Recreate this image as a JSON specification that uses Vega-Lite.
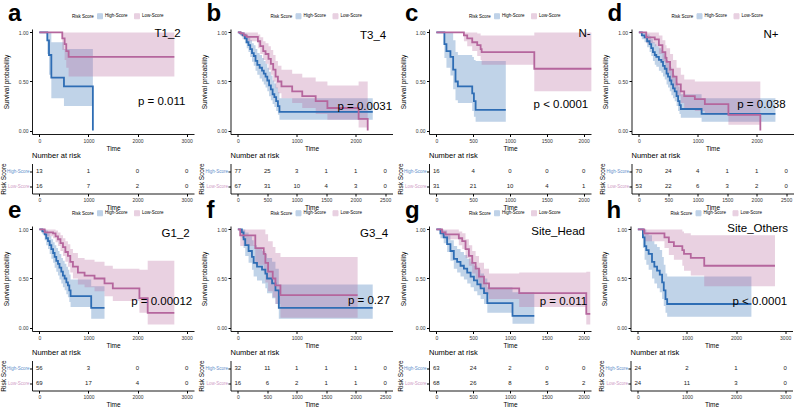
{
"$schema": "https://vega.github.io/schema/vega-lite/v6.json",
"padding": {"left": 0, "top": 2, "right": 0, "bottom": 0},
"background": "white",
"config": {
 "font": "Liberation Sans",
 "view": {"stroke": null},
 "axis": {"grid": false, "domainColor": "#000", "domainWidth": 0.9, "tickColor": "#000", "tickSize": 2.5, "labelFontSize": 5, "labelColor": "#333", "titleFontSize": 6.5, "titleFontWeight": "normal", "titleColor": "#000", "labelPadding": 1.5, "titlePadding": 2},
 "legend": {"labelFontSize": 4.5, "titleFontSize": 4.5, "titleFontWeight": "normal", "labelColor": "#000", "symbolSize": 25, "symbolType": "square", "columnPadding": 4, "labelOffset": 2, "titlePadding": 3, "symbolStrokeWidth": 1},
 "title": {"fontSize": 24, "fontWeight": "bold", "anchor": "start", "frame": "group", "dx": -24, "offset": -13}
},
"datasets": {
 "a_km": [
  {"g":"High-Score","t":0,"s":1,"lo":1,"hi":1},{"g":"High-Score","t":162,"s":0.92,"lo":0.78,"hi":1},{"g":"High-Score","t":196,"s":0.77,"lo":0.57,"hi":1},{"g":"High-Score","t":244,"s":0.54,"lo":0.33,"hi":0.9},{"g":"High-Score","t":501,"s":0.45,"lo":0.25,"hi":0.83},{"g":"High-Score","t":1090,"s":0,"lo":0,"hi":0},
  {"g":"Low-Score","t":0,"s":1,"lo":1,"hi":1},{"g":"Low-Score","t":467,"s":0.94,"lo":0.82,"hi":1},{"g":"Low-Score","t":515,"s":0.88,"lo":0.72,"hi":1},{"g":"Low-Score","t":548,"s":0.81,"lo":0.64,"hi":1},{"g":"Low-Score","t":596,"s":0.75,"lo":0.55,"hi":1},{"g":"Low-Score","t":2750,"s":0.75,"lo":0.55,"hi":1}
 ],
 "a_risk": [
  {"g":"High-Score","t":0,"n":13},{"g":"High-Score","t":1000,"n":1},{"g":"High-Score","t":2000,"n":0},{"g":"High-Score","t":3000,"n":0},
  {"g":"Low-Score","t":0,"n":16},{"g":"Low-Score","t":1000,"n":7},{"g":"Low-Score","t":2000,"n":2},{"g":"Low-Score","t":3000,"n":0}
 ],
 "b_km": [
  {"g":"High-Score","t":0,"s":1,"lo":1,"hi":1},{"g":"High-Score","t":40,"s":0.99,"lo":0.97,"hi":1},{"g":"High-Score","t":80,"s":0.97,"lo":0.93,"hi":1},{"g":"High-Score","t":120,"s":0.94,"lo":0.89,"hi":0.99},{"g":"High-Score","t":150,"s":0.9,"lo":0.84,"hi":0.97},{"g":"High-Score","t":180,"s":0.87,"lo":0.8,"hi":0.95},{"g":"High-Score","t":210,"s":0.83,"lo":0.75,"hi":0.92},{"g":"High-Score","t":240,"s":0.79,"lo":0.7,"hi":0.89},{"g":"High-Score","t":270,"s":0.76,"lo":0.66,"hi":0.87},{"g":"High-Score","t":300,"s":0.71,"lo":0.61,"hi":0.83},{"g":"High-Score","t":330,"s":0.67,"lo":0.57,"hi":0.79},{"g":"High-Score","t":370,"s":0.64,"lo":0.53,"hi":0.77},{"g":"High-Score","t":410,"s":0.61,"lo":0.5,"hi":0.74},{"g":"High-Score","t":440,"s":0.58,"lo":0.47,"hi":0.71},{"g":"High-Score","t":470,"s":0.55,"lo":0.44,"hi":0.68},{"g":"High-Score","t":500,"s":0.51,"lo":0.4,"hi":0.64},{"g":"High-Score","t":530,"s":0.46,"lo":0.35,"hi":0.6},{"g":"High-Score","t":560,"s":0.42,"lo":0.31,"hi":0.56},{"g":"High-Score","t":590,"s":0.37,"lo":0.27,"hi":0.51},{"g":"High-Score","t":620,"s":0.34,"lo":0.24,"hi":0.48},{"g":"High-Score","t":650,"s":0.3,"lo":0.2,"hi":0.44},{"g":"High-Score","t":680,"s":0.25,"lo":0.16,"hi":0.39},{"g":"High-Score","t":706,"s":0.19,"lo":0.11,"hi":0.33},{"g":"High-Score","t":2290,"s":0.19,"lo":0.11,"hi":0.33},
  {"g":"Low-Score","t":0,"s":1,"lo":1,"hi":1},{"g":"Low-Score","t":50,"s":0.99,"lo":0.97,"hi":1},{"g":"Low-Score","t":100,"s":0.97,"lo":0.93,"hi":1},{"g":"Low-Score","t":150,"s":0.955,"lo":0.91,"hi":1},{"g":"Low-Score","t":340,"s":0.91,"lo":0.84,"hi":0.98},{"g":"Low-Score","t":380,"s":0.86,"lo":0.78,"hi":0.95},{"g":"Low-Score","t":430,"s":0.81,"lo":0.72,"hi":0.91},{"g":"Low-Score","t":470,"s":0.78,"lo":0.68,"hi":0.89},{"g":"Low-Score","t":520,"s":0.73,"lo":0.62,"hi":0.86},{"g":"Low-Score","t":560,"s":0.68,"lo":0.57,"hi":0.82},{"g":"Low-Score","t":600,"s":0.62,"lo":0.5,"hi":0.77},{"g":"Low-Score","t":640,"s":0.55,"lo":0.43,"hi":0.71},{"g":"Low-Score","t":680,"s":0.5,"lo":0.38,"hi":0.66},{"g":"Low-Score","t":740,"s":0.45,"lo":0.33,"hi":0.62},{"g":"Low-Score","t":922,"s":0.4,"lo":0.28,"hi":0.58},{"g":"Low-Score","t":1093,"s":0.35,"lo":0.23,"hi":0.54},{"g":"Low-Score","t":1321,"s":0.3,"lo":0.17,"hi":0.5},{"g":"Low-Score","t":1520,"s":0.23,"lo":0.11,"hi":0.46},{"g":"Low-Score","t":2050,"s":0.12,"lo":0.03,"hi":0.5},{"g":"Low-Score","t":2204,"s":0,"lo":0,"hi":0}
 ],
 "b_risk": [
  {"g":"High-Score","t":0,"n":77},{"g":"High-Score","t":500,"n":25},{"g":"High-Score","t":1000,"n":3},{"g":"High-Score","t":1500,"n":1},{"g":"High-Score","t":2000,"n":1},{"g":"High-Score","t":2500,"n":0},
  {"g":"Low-Score","t":0,"n":67},{"g":"Low-Score","t":500,"n":31},{"g":"Low-Score","t":1000,"n":10},{"g":"Low-Score","t":1500,"n":4},{"g":"Low-Score","t":2000,"n":3},{"g":"Low-Score","t":2500,"n":0}
 ],
 "c_km": [
  {"g":"High-Score","t":0,"s":1,"lo":1,"hi":1},{"g":"High-Score","t":109,"s":0.88,"lo":0.74,"hi":1},{"g":"High-Score","t":137,"s":0.81,"lo":0.64,"hi":1},{"g":"High-Score","t":191,"s":0.75,"lo":0.56,"hi":1},{"g":"High-Score","t":228,"s":0.62,"lo":0.42,"hi":0.92},{"g":"High-Score","t":260,"s":0.5,"lo":0.31,"hi":0.8},{"g":"High-Score","t":292,"s":0.45,"lo":0.28,"hi":0.77},{"g":"High-Score","t":487,"s":0.38,"lo":0.2,"hi":0.75},{"g":"High-Score","t":510,"s":0.3,"lo":0.14,"hi":0.72},{"g":"High-Score","t":533,"s":0.21,"lo":0.09,"hi":0.71},{"g":"High-Score","t":943,"s":0.21,"lo":0.09,"hi":0.71},
  {"g":"Low-Score","t":0,"s":1,"lo":1,"hi":1},{"g":"Low-Score","t":374,"s":0.97,"lo":0.91,"hi":1},{"g":"Low-Score","t":419,"s":0.94,"lo":0.86,"hi":1},{"g":"Low-Score","t":487,"s":0.9,"lo":0.81,"hi":1},{"g":"Low-Score","t":555,"s":0.87,"lo":0.76,"hi":0.99},{"g":"Low-Score","t":601,"s":0.83,"lo":0.72,"hi":0.97},{"g":"Low-Score","t":615,"s":0.8,"lo":0.67,"hi":0.97},{"g":"Low-Score","t":1330,"s":0.63,"lo":0.4,"hi":1},{"g":"Low-Score","t":2105,"s":0.63,"lo":0.4,"hi":1}
 ],
 "c_risk": [
  {"g":"High-Score","t":0,"n":16},{"g":"High-Score","t":500,"n":4},{"g":"High-Score","t":1000,"n":0},{"g":"High-Score","t":1500,"n":0},{"g":"High-Score","t":2000,"n":0},
  {"g":"Low-Score","t":0,"n":31},{"g":"Low-Score","t":500,"n":21},{"g":"Low-Score","t":1000,"n":10},{"g":"Low-Score","t":1500,"n":4},{"g":"Low-Score","t":2000,"n":1}
 ],
 "d_km": [
  {"g":"High-Score","t":0,"s":1,"lo":1,"hi":1},{"g":"High-Score","t":50,"s":0.97,"lo":0.93,"hi":1},{"g":"High-Score","t":97,"s":0.95,"lo":0.9,"hi":1},{"g":"High-Score","t":140,"s":0.91,"lo":0.85,"hi":0.98},{"g":"High-Score","t":182,"s":0.88,"lo":0.8,"hi":0.96},{"g":"High-Score","t":210,"s":0.84,"lo":0.76,"hi":0.93},{"g":"High-Score","t":239,"s":0.8,"lo":0.71,"hi":0.9},{"g":"High-Score","t":270,"s":0.77,"lo":0.67,"hi":0.88},{"g":"High-Score","t":296,"s":0.75,"lo":0.65,"hi":0.86},{"g":"High-Score","t":340,"s":0.72,"lo":0.61,"hi":0.84},{"g":"High-Score","t":382,"s":0.7,"lo":0.59,"hi":0.82},{"g":"High-Score","t":410,"s":0.66,"lo":0.55,"hi":0.79},{"g":"High-Score","t":439,"s":0.63,"lo":0.52,"hi":0.76},{"g":"High-Score","t":470,"s":0.58,"lo":0.47,"hi":0.72},{"g":"High-Score","t":495,"s":0.55,"lo":0.44,"hi":0.69},{"g":"High-Score","t":525,"s":0.51,"lo":0.4,"hi":0.65},{"g":"High-Score","t":552,"s":0.47,"lo":0.36,"hi":0.61},{"g":"High-Score","t":580,"s":0.43,"lo":0.33,"hi":0.57},{"g":"High-Score","t":609,"s":0.4,"lo":0.3,"hi":0.54},{"g":"High-Score","t":640,"s":0.35,"lo":0.25,"hi":0.49},{"g":"High-Score","t":666,"s":0.3,"lo":0.2,"hi":0.45},{"g":"High-Score","t":690,"s":0.26,"lo":0.17,"hi":0.41},{"g":"High-Score","t":712,"s":0.22,"lo":0.13,"hi":0.37},{"g":"High-Score","t":1065,"s":0.17,"lo":0.09,"hi":0.33},{"g":"High-Score","t":2318,"s":0.17,"lo":0.09,"hi":0.33},
  {"g":"Low-Score","t":0,"s":1,"lo":1,"hi":1},{"g":"Low-Score","t":125,"s":0.95,"lo":0.89,"hi":1},{"g":"Low-Score","t":270,"s":0.93,"lo":0.86,"hi":1},{"g":"Low-Score","t":340,"s":0.87,"lo":0.78,"hi":0.97},{"g":"Low-Score","t":400,"s":0.8,"lo":0.7,"hi":0.92},{"g":"Low-Score","t":450,"s":0.74,"lo":0.63,"hi":0.87},{"g":"Low-Score","t":470,"s":0.7,"lo":0.58,"hi":0.84},{"g":"Low-Score","t":530,"s":0.62,"lo":0.5,"hi":0.78},{"g":"Low-Score","t":580,"s":0.55,"lo":0.42,"hi":0.72},{"g":"Low-Score","t":640,"s":0.47,"lo":0.35,"hi":0.64},{"g":"Low-Score","t":712,"s":0.4,"lo":0.28,"hi":0.57},{"g":"Low-Score","t":770,"s":0.35,"lo":0.23,"hi":0.52},{"g":"Low-Score","t":950,"s":0.32,"lo":0.2,"hi":0.5},{"g":"Low-Score","t":1120,"s":0.27,"lo":0.16,"hi":0.5},{"g":"Low-Score","t":1520,"s":0.16,"lo":0.06,"hi":0.5},{"g":"Low-Score","t":2062,"s":0,"lo":0,"hi":0}
 ],
 "d_risk": [
  {"g":"High-Score","t":0,"n":70},{"g":"High-Score","t":500,"n":24},{"g":"High-Score","t":1000,"n":4},{"g":"High-Score","t":1500,"n":1},{"g":"High-Score","t":2000,"n":1},{"g":"High-Score","t":2500,"n":0},
  {"g":"Low-Score","t":0,"n":53},{"g":"Low-Score","t":500,"n":22},{"g":"Low-Score","t":1000,"n":6},{"g":"Low-Score","t":1500,"n":3},{"g":"Low-Score","t":2000,"n":2},{"g":"Low-Score","t":2500,"n":0}
 ],
 "e_km": [
  {"g":"High-Score","t":0,"s":1,"lo":1,"hi":1},{"g":"High-Score","t":60,"s":0.98,"lo":0.95,"hi":1},{"g":"High-Score","t":108,"s":0.95,"lo":0.89,"hi":1},{"g":"High-Score","t":140,"s":0.91,"lo":0.84,"hi":0.99},{"g":"High-Score","t":176,"s":0.88,"lo":0.8,"hi":0.96},{"g":"High-Score","t":210,"s":0.84,"lo":0.75,"hi":0.93},{"g":"High-Score","t":244,"s":0.8,"lo":0.7,"hi":0.9},{"g":"High-Score","t":280,"s":0.76,"lo":0.66,"hi":0.87},{"g":"High-Score","t":311,"s":0.72,"lo":0.61,"hi":0.84},{"g":"High-Score","t":345,"s":0.68,"lo":0.57,"hi":0.81},{"g":"High-Score","t":379,"s":0.65,"lo":0.53,"hi":0.78},{"g":"High-Score","t":410,"s":0.61,"lo":0.49,"hi":0.75},{"g":"High-Score","t":447,"s":0.57,"lo":0.45,"hi":0.71},{"g":"High-Score","t":480,"s":0.53,"lo":0.41,"hi":0.68},{"g":"High-Score","t":515,"s":0.5,"lo":0.38,"hi":0.65},{"g":"High-Score","t":550,"s":0.46,"lo":0.34,"hi":0.62},{"g":"High-Score","t":582,"s":0.43,"lo":0.31,"hi":0.59},{"g":"High-Score","t":610,"s":0.38,"lo":0.26,"hi":0.54},{"g":"High-Score","t":636,"s":0.32,"lo":0.21,"hi":0.49},{"g":"High-Score","t":1056,"s":0.2,"lo":0.09,"hi":0.42},{"g":"High-Score","t":1327,"s":0.2,"lo":0.09,"hi":0.42},
  {"g":"Low-Score","t":0,"s":1,"lo":1,"hi":1},{"g":"Low-Score","t":108,"s":0.97,"lo":0.93,"hi":1},{"g":"Low-Score","t":278,"s":0.96,"lo":0.91,"hi":1},{"g":"Low-Score","t":330,"s":0.93,"lo":0.87,"hi":0.99},{"g":"Low-Score","t":379,"s":0.9,"lo":0.83,"hi":0.97},{"g":"Low-Score","t":430,"s":0.86,"lo":0.78,"hi":0.94},{"g":"Low-Score","t":481,"s":0.82,"lo":0.73,"hi":0.91},{"g":"Low-Score","t":530,"s":0.77,"lo":0.67,"hi":0.88},{"g":"Low-Score","t":582,"s":0.73,"lo":0.62,"hi":0.85},{"g":"Low-Score","t":630,"s":0.67,"lo":0.56,"hi":0.8},{"g":"Low-Score","t":684,"s":0.62,"lo":0.5,"hi":0.76},{"g":"Low-Score","t":785,"s":0.56,"lo":0.44,"hi":0.71},{"g":"Low-Score","t":921,"s":0.53,"lo":0.41,"hi":0.69},{"g":"Low-Score","t":1124,"s":0.5,"lo":0.37,"hi":0.67},{"g":"Low-Score","t":1327,"s":0.45,"lo":0.32,"hi":0.63},{"g":"Low-Score","t":1496,"s":0.4,"lo":0.27,"hi":0.6},{"g":"Low-Score","t":2038,"s":0.3,"lo":0.15,"hi":0.59},{"g":"Low-Score","t":2207,"s":0.15,"lo":0.03,"hi":0.68},{"g":"Low-Score","t":2749,"s":0.15,"lo":0.03,"hi":0.68}
 ],
 "e_risk": [
  {"g":"High-Score","t":0,"n":56},{"g":"High-Score","t":1000,"n":3},{"g":"High-Score","t":2000,"n":0},{"g":"High-Score","t":3000,"n":0},
  {"g":"Low-Score","t":0,"n":69},{"g":"Low-Score","t":1000,"n":17},{"g":"Low-Score","t":2000,"n":4},{"g":"Low-Score","t":3000,"n":0}
 ],
 "f_km": [
  {"g":"High-Score","t":0,"s":1,"lo":1,"hi":1},{"g":"High-Score","t":68,"s":0.97,"lo":0.91,"hi":1},{"g":"High-Score","t":97,"s":0.9,"lo":0.81,"hi":1},{"g":"High-Score","t":125,"s":0.84,"lo":0.73,"hi":0.97},{"g":"High-Score","t":182,"s":0.78,"lo":0.66,"hi":0.93},{"g":"High-Score","t":239,"s":0.72,"lo":0.59,"hi":0.89},{"g":"High-Score","t":268,"s":0.66,"lo":0.52,"hi":0.84},{"g":"High-Score","t":325,"s":0.62,"lo":0.48,"hi":0.81},{"g":"High-Score","t":410,"s":0.59,"lo":0.45,"hi":0.78},{"g":"High-Score","t":467,"s":0.55,"lo":0.4,"hi":0.75},{"g":"High-Score","t":495,"s":0.5,"lo":0.35,"hi":0.71},{"g":"High-Score","t":581,"s":0.45,"lo":0.3,"hi":0.67},{"g":"High-Score","t":638,"s":0.38,"lo":0.24,"hi":0.6},{"g":"High-Score","t":695,"s":0.2,"lo":0.09,"hi":0.44},{"g":"High-Score","t":2289,"s":0.2,"lo":0.09,"hi":0.44},
  {"g":"Low-Score","t":0,"s":1,"lo":1,"hi":1},{"g":"Low-Score","t":40,"s":0.94,"lo":0.83,"hi":1},{"g":"Low-Score","t":296,"s":0.81,"lo":0.64,"hi":1},{"g":"Low-Score","t":439,"s":0.75,"lo":0.56,"hi":1},{"g":"Low-Score","t":467,"s":0.66,"lo":0.46,"hi":0.95},{"g":"Low-Score","t":513,"s":0.57,"lo":0.37,"hi":0.88},{"g":"Low-Score","t":592,"s":0.5,"lo":0.31,"hi":0.82},{"g":"Low-Score","t":638,"s":0.43,"lo":0.24,"hi":0.76},{"g":"Low-Score","t":723,"s":0.33,"lo":0.1,"hi":0.72},{"g":"Low-Score","t":2033,"s":0.33,"lo":0.1,"hi":0.72}
 ],
 "f_risk": [
  {"g":"High-Score","t":0,"n":32},{"g":"High-Score","t":500,"n":11},{"g":"High-Score","t":1000,"n":1},{"g":"High-Score","t":1500,"n":1},{"g":"High-Score","t":2000,"n":1},{"g":"High-Score","t":2500,"n":0},
  {"g":"Low-Score","t":0,"n":16},{"g":"Low-Score","t":500,"n":6},{"g":"Low-Score","t":1000,"n":2},{"g":"Low-Score","t":1500,"n":1},{"g":"Low-Score","t":2000,"n":1},{"g":"Low-Score","t":2500,"n":0}
 ],
 "g_km": [
  {"g":"High-Score","t":0,"s":1,"lo":1,"hi":1},{"g":"High-Score","t":55,"s":0.96,"lo":0.91,"hi":1},{"g":"High-Score","t":100,"s":0.92,"lo":0.86,"hi":0.99},{"g":"High-Score","t":146,"s":0.85,"lo":0.77,"hi":0.94},{"g":"High-Score","t":191,"s":0.78,"lo":0.68,"hi":0.89},{"g":"High-Score","t":237,"s":0.7,"lo":0.6,"hi":0.83},{"g":"High-Score","t":282,"s":0.67,"lo":0.56,"hi":0.8},{"g":"High-Score","t":328,"s":0.63,"lo":0.52,"hi":0.77},{"g":"High-Score","t":374,"s":0.6,"lo":0.49,"hi":0.74},{"g":"High-Score","t":419,"s":0.56,"lo":0.45,"hi":0.7},{"g":"High-Score","t":465,"s":0.52,"lo":0.41,"hi":0.67},{"g":"High-Score","t":510,"s":0.48,"lo":0.37,"hi":0.63},{"g":"High-Score","t":556,"s":0.44,"lo":0.33,"hi":0.59},{"g":"High-Score","t":601,"s":0.4,"lo":0.29,"hi":0.55},{"g":"High-Score","t":647,"s":0.35,"lo":0.24,"hi":0.5},{"g":"High-Score","t":692,"s":0.25,"lo":0.15,"hi":0.41},{"g":"High-Score","t":1034,"s":0.12,"lo":0.04,"hi":0.36},{"g":"High-Score","t":1330,"s":0.12,"lo":0.04,"hi":0.36},
  {"g":"Low-Score","t":0,"s":1,"lo":1,"hi":1},{"g":"Low-Score","t":77,"s":0.97,"lo":0.93,"hi":1},{"g":"Low-Score","t":123,"s":0.95,"lo":0.9,"hi":1},{"g":"Low-Score","t":305,"s":0.91,"lo":0.84,"hi":0.98},{"g":"Low-Score","t":351,"s":0.88,"lo":0.8,"hi":0.96},{"g":"Low-Score","t":396,"s":0.8,"lo":0.71,"hi":0.9},{"g":"Low-Score","t":442,"s":0.73,"lo":0.63,"hi":0.84},{"g":"Low-Score","t":487,"s":0.66,"lo":0.55,"hi":0.78},{"g":"Low-Score","t":533,"s":0.6,"lo":0.49,"hi":0.73},{"g":"Low-Score","t":579,"s":0.52,"lo":0.41,"hi":0.66},{"g":"Low-Score","t":647,"s":0.45,"lo":0.34,"hi":0.6},{"g":"Low-Score","t":715,"s":0.4,"lo":0.29,"hi":0.55},{"g":"Low-Score","t":1125,"s":0.35,"lo":0.21,"hi":0.56},{"g":"Low-Score","t":2036,"s":0.14,"lo":0.03,"hi":0.57},{"g":"Low-Score","t":2090,"s":0.14,"lo":0.03,"hi":0.57}
 ],
 "g_risk": [
  {"g":"High-Score","t":0,"n":63},{"g":"High-Score","t":500,"n":24},{"g":"High-Score","t":1000,"n":2},{"g":"High-Score","t":1500,"n":0},{"g":"High-Score","t":2000,"n":0},
  {"g":"Low-Score","t":0,"n":68},{"g":"Low-Score","t":500,"n":26},{"g":"Low-Score","t":1000,"n":8},{"g":"Low-Score","t":1500,"n":5},{"g":"Low-Score","t":2000,"n":2}
 ],
 "h_km": [
  {"g":"High-Score","t":0,"s":1,"lo":1,"hi":1},{"g":"High-Score","t":103,"s":0.92,"lo":0.81,"hi":1},{"g":"High-Score","t":137,"s":0.83,"lo":0.69,"hi":1},{"g":"High-Score","t":172,"s":0.79,"lo":0.64,"hi":0.97},{"g":"High-Score","t":220,"s":0.75,"lo":0.59,"hi":0.94},{"g":"High-Score","t":288,"s":0.67,"lo":0.5,"hi":0.88},{"g":"High-Score","t":336,"s":0.62,"lo":0.45,"hi":0.85},{"g":"High-Score","t":391,"s":0.58,"lo":0.4,"hi":0.82},{"g":"High-Score","t":446,"s":0.54,"lo":0.36,"hi":0.79},{"g":"High-Score","t":494,"s":0.46,"lo":0.29,"hi":0.72},{"g":"High-Score","t":528,"s":0.38,"lo":0.22,"hi":0.64},{"g":"High-Score","t":563,"s":0.29,"lo":0.15,"hi":0.55},{"g":"High-Score","t":597,"s":0.24,"lo":0.11,"hi":0.52},{"g":"High-Score","t":2313,"s":0.24,"lo":0.11,"hi":0.52},
  {"g":"Low-Score","t":0,"s":1,"lo":1,"hi":1},{"g":"Low-Score","t":130,"s":0.96,"lo":0.88,"hi":1},{"g":"Low-Score","t":542,"s":0.92,"lo":0.81,"hi":1},{"g":"Low-Score","t":631,"s":0.87,"lo":0.74,"hi":1},{"g":"Low-Score","t":734,"s":0.83,"lo":0.69,"hi":1},{"g":"Low-Score","t":906,"s":0.79,"lo":0.63,"hi":0.98},{"g":"Low-Score","t":940,"s":0.75,"lo":0.58,"hi":0.96},{"g":"Low-Score","t":1078,"s":0.71,"lo":0.53,"hi":0.94},{"g":"Low-Score","t":1352,"s":0.63,"lo":0.42,"hi":0.94},{"g":"Low-Score","t":2793,"s":0.63,"lo":0.42,"hi":0.94}
 ],
 "h_risk": [
  {"g":"High-Score","t":0,"n":24},{"g":"High-Score","t":1000,"n":2},{"g":"High-Score","t":2000,"n":1},{"g":"High-Score","t":3000,"n":0},
  {"g":"Low-Score","t":0,"n":24},{"g":"Low-Score","t":1000,"n":11},{"g":"Low-Score","t":2000,"n":3},{"g":"Low-Score","t":3000,"n":0}
 ]
},
"spacing": -12,
"resolve": {"scale": {"color": "independent"}, "legend": {"color": "independent"}},
"vconcat": [
{"hconcat": [
 {"vconcat": [
  {"width": 162, "height": 105, "title": {"text": "a"},
   "data": {"name": "a_km"},
   "layer": [
    {"mark": {"type": "area", "interpolate": "step-after", "opacity": 0.3}, "encoding": {"x": {"field": "t", "type": "quantitative", "scale": {"domain": [-150, 3150], "nice": false, "zero": false}, "axis": {"values": [0,1000,2000,3000], "title": "Time", "format": "d"}}, "y": {"field": "lo", "type": "quantitative", "scale": {"domain": [-0.035, 1.035], "nice": false}, "axis": {"values": [0,0.25,0.5,0.75,1], "format": ".2f", "title": "Survival probability", "titlePadding": 9}}, "y2": {"field": "hi"}, "color": {"field": "g", "type": "nominal", "scale": {"domain": ["High-Score","Low-Score"], "range": ["#2E6DB4","#B5669D"]}, "legend": {"title": "Risk Score", "orient": "none", "legendX": 40, "legendY": -16, "direction": "horizontal", "titleOrient": "left"}}}},
    {"mark": {"type": "line", "interpolate": "step-after", "strokeWidth": 1.8}, "encoding": {"x": {"field": "t", "type": "quantitative", "title": "Time"}, "y": {"field": "s", "type": "quantitative", "title": "Survival probability"}, "color": {"field": "g", "type": "nominal"}}},
    {"data": {"values": [{}]}, "mark": {"type": "text", "text": "T1_2", "fontSize": 11.5, "align": "right", "baseline": "middle"}, "encoding": {"x": {"datum": 2880}, "y": {"datum": 0.98}}},
    {"data": {"values": [{}]}, "mark": {"type": "text", "text": "p = 0.011", "fontSize": 11.5, "align": "left", "baseline": "middle"}, "encoding": {"x": {"datum": 2008}, "y": {"datum": 0.29}}}
   ]},
  {"width": 162, "height": 30, "title": {"text": "Number at risk", "fontSize": 7.5, "fontWeight": "normal", "offset": 3, "dx": 0},
   "data": {"name": "a_risk"}, "mark": {"type": "text", "fontSize": 6, "color": "#222"},
   "encoding": {"x": {"field": "t", "type": "quantitative", "scale": {"domain": [-150, 3150], "nice": false, "zero": false}, "axis": {"values": [0,1000,2000,3000], "title": "Time", "format": "d"}}, "y": {"field": "g", "type": "nominal", "scale": {"domain": ["High-Score","Low-Score"]}, "axis": {"title": "Risk Score", "labelFontSize": 4.5, "labelPadding": 0.5, "titlePadding": 0, "labelColor": {"condition": {"test": "datum.value === 'High-Score'", "value": "#5F8FCB"}, "value": "#CF9CC6"}}}, "text": {"field": "n"}}}
 ], "spacing": 29.5, "bounds": "flush", "resolve": {"scale": {"color": "independent"}, "legend": {"color": "independent"}}},
 {"vconcat": [
  {"width": 162, "height": 105, "title": {"text": "b"},
   "data": {"name": "b_km"},
   "layer": [
    {"mark": {"type": "area", "interpolate": "step-after", "opacity": 0.3}, "encoding": {"x": {"field": "t", "type": "quantitative", "scale": {"domain": [-125, 2625], "nice": false, "zero": false}, "axis": {"values": [0,500,1000,1500,2000,2500], "title": "Time", "format": "d"}}, "y": {"field": "lo", "type": "quantitative", "scale": {"domain": [-0.035, 1.035], "nice": false}, "axis": {"values": [0,0.25,0.5,0.75,1], "format": ".2f", "title": "Survival probability", "titlePadding": 9}}, "y2": {"field": "hi"}, "color": {"field": "g", "type": "nominal", "scale": {"domain": ["High-Score","Low-Score"], "range": ["#2E6DB4","#B5669D"]}, "legend": {"title": "Risk Score", "orient": "none", "legendX": 40, "legendY": -16, "direction": "horizontal", "titleOrient": "left"}}}},
    {"mark": {"type": "line", "interpolate": "step-after", "strokeWidth": 1.8}, "encoding": {"x": {"field": "t", "type": "quantitative", "title": "Time"}, "y": {"field": "s", "type": "quantitative", "title": "Survival probability"}, "color": {"field": "g", "type": "nominal"}}},
    {"data": {"values": [{}]}, "mark": {"type": "text", "text": "T3_4", "fontSize": 11.5, "align": "right", "baseline": "middle"}, "encoding": {"x": {"datum": 2518}, "y": {"datum": 0.96}}},
    {"data": {"values": [{}]}, "mark": {"type": "text", "text": "p = 0.0031", "fontSize": 11.5, "align": "left", "baseline": "middle"}, "encoding": {"x": {"datum": 1690}, "y": {"datum": 0.245}}}
   ]},
  {"width": 162, "height": 30, "title": {"text": "Number at risk", "fontSize": 7.5, "fontWeight": "normal", "offset": 3, "dx": 0},
   "data": {"name": "b_risk"}, "mark": {"type": "text", "fontSize": 6, "color": "#222"},
   "encoding": {"x": {"field": "t", "type": "quantitative", "scale": {"domain": [-125, 2625], "nice": false, "zero": false}, "axis": {"values": [0,500,1000,1500,2000,2500], "title": "Time", "format": "d"}}, "y": {"field": "g", "type": "nominal", "scale": {"domain": ["High-Score","Low-Score"]}, "axis": {"title": "Risk Score", "labelFontSize": 4.5, "labelPadding": 0.5, "titlePadding": 0, "labelColor": {"condition": {"test": "datum.value === 'High-Score'", "value": "#5F8FCB"}, "value": "#CF9CC6"}}}, "text": {"field": "n"}}}
 ], "spacing": 29.5, "bounds": "flush", "resolve": {"scale": {"color": "independent"}, "legend": {"color": "independent"}}},
 {"vconcat": [
  {"width": 162, "height": 105, "title": {"text": "c"},
   "data": {"name": "c_km"},
   "layer": [
    {"mark": {"type": "area", "interpolate": "step-after", "opacity": 0.3}, "encoding": {"x": {"field": "t", "type": "quantitative", "scale": {"domain": [-100, 2100], "nice": false, "zero": false}, "axis": {"values": [0,500,1000,1500,2000], "title": "Time", "format": "d"}}, "y": {"field": "lo", "type": "quantitative", "scale": {"domain": [-0.035, 1.035], "nice": false}, "axis": {"values": [0,0.25,0.5,0.75,1], "format": ".2f", "title": "Survival probability", "titlePadding": 9}}, "y2": {"field": "hi"}, "color": {"field": "g", "type": "nominal", "scale": {"domain": ["High-Score","Low-Score"], "range": ["#2E6DB4","#B5669D"]}, "legend": {"title": "Risk Score", "orient": "none", "legendX": 40, "legendY": -16, "direction": "horizontal", "titleOrient": "left"}}}},
    {"mark": {"type": "line", "interpolate": "step-after", "strokeWidth": 1.8}, "encoding": {"x": {"field": "t", "type": "quantitative", "title": "Time"}, "y": {"field": "s", "type": "quantitative", "title": "Survival probability"}, "color": {"field": "g", "type": "nominal"}}},
    {"data": {"values": [{}]}, "mark": {"type": "text", "text": "N-", "fontSize": 11.5, "align": "right", "baseline": "middle"}, "encoding": {"x": {"datum": 2095}, "y": {"datum": 0.98}}},
    {"data": {"values": [{}]}, "mark": {"type": "text", "text": "p < 0.0001", "fontSize": 11.5, "align": "left", "baseline": "middle"}, "encoding": {"x": {"datum": 1320}, "y": {"datum": 0.265}}}
   ]},
  {"width": 162, "height": 30, "title": {"text": "Number at risk", "fontSize": 7.5, "fontWeight": "normal", "offset": 3, "dx": 0},
   "data": {"name": "c_risk"}, "mark": {"type": "text", "fontSize": 6, "color": "#222"},
   "encoding": {"x": {"field": "t", "type": "quantitative", "scale": {"domain": [-100, 2100], "nice": false, "zero": false}, "axis": {"values": [0,500,1000,1500,2000], "title": "Time", "format": "d"}}, "y": {"field": "g", "type": "nominal", "scale": {"domain": ["High-Score","Low-Score"]}, "axis": {"title": "Risk Score", "labelFontSize": 4.5, "labelPadding": 0.5, "titlePadding": 0, "labelColor": {"condition": {"test": "datum.value === 'High-Score'", "value": "#5F8FCB"}, "value": "#CF9CC6"}}}, "text": {"field": "n"}}}
 ], "spacing": 29.5, "bounds": "flush", "resolve": {"scale": {"color": "independent"}, "legend": {"color": "independent"}}},
 {"vconcat": [
  {"width": 162, "height": 105, "title": {"text": "d"},
   "data": {"name": "d_km"},
   "layer": [
    {"mark": {"type": "area", "interpolate": "step-after", "opacity": 0.3}, "encoding": {"x": {"field": "t", "type": "quantitative", "scale": {"domain": [-125, 2625], "nice": false, "zero": false}, "axis": {"values": [0,500,1000,1500,2000,2500], "title": "Time", "format": "d"}}, "y": {"field": "lo", "type": "quantitative", "scale": {"domain": [-0.035, 1.035], "nice": false}, "axis": {"values": [0,0.25,0.5,0.75,1], "format": ".2f", "title": "Survival probability", "titlePadding": 9}}, "y2": {"field": "hi"}, "color": {"field": "g", "type": "nominal", "scale": {"domain": ["High-Score","Low-Score"], "range": ["#2E6DB4","#B5669D"]}, "legend": {"title": "Risk Score", "orient": "none", "legendX": 40, "legendY": -16, "direction": "horizontal", "titleOrient": "left"}}}},
    {"mark": {"type": "line", "interpolate": "step-after", "strokeWidth": 1.8}, "encoding": {"x": {"field": "t", "type": "quantitative", "title": "Time"}, "y": {"field": "s", "type": "quantitative", "title": "Survival probability"}, "color": {"field": "g", "type": "nominal"}}},
    {"data": {"values": [{}]}, "mark": {"type": "text", "text": "N+", "fontSize": 11.5, "align": "right", "baseline": "middle"}, "encoding": {"x": {"datum": 2371}, "y": {"datum": 0.97}}},
    {"data": {"values": [{}]}, "mark": {"type": "text", "text": "p = 0.038", "fontSize": 11.5, "align": "left", "baseline": "middle"}, "encoding": {"x": {"datum": 1670}, "y": {"datum": 0.265}}}
   ]},
  {"width": 162, "height": 30, "title": {"text": "Number at risk", "fontSize": 7.5, "fontWeight": "normal", "offset": 3, "dx": 0},
   "data": {"name": "d_risk"}, "mark": {"type": "text", "fontSize": 6, "color": "#222"},
   "encoding": {"x": {"field": "t", "type": "quantitative", "scale": {"domain": [-125, 2625], "nice": false, "zero": false}, "axis": {"values": [0,500,1000,1500,2000,2500], "title": "Time", "format": "d"}}, "y": {"field": "g", "type": "nominal", "scale": {"domain": ["High-Score","Low-Score"]}, "axis": {"title": "Risk Score", "labelFontSize": 4.5, "labelPadding": 0.5, "titlePadding": 0, "labelColor": {"condition": {"test": "datum.value === 'High-Score'", "value": "#5F8FCB"}, "value": "#CF9CC6"}}}, "text": {"field": "n"}}}
 ], "spacing": 29.5, "bounds": "flush", "resolve": {"scale": {"color": "independent"}, "legend": {"color": "independent"}}}
], "spacing": 4.5, "resolve": {"scale": {"color": "independent"}, "legend": {"color": "independent"}}},
{"hconcat": [
 {"vconcat": [
  {"width": 162, "height": 105, "title": {"text": "e"},
   "data": {"name": "e_km"},
   "layer": [
    {"mark": {"type": "area", "interpolate": "step-after", "opacity": 0.3}, "encoding": {"x": {"field": "t", "type": "quantitative", "scale": {"domain": [-150, 3150], "nice": false, "zero": false}, "axis": {"values": [0,1000,2000,3000], "title": "Time", "format": "d"}}, "y": {"field": "lo", "type": "quantitative", "scale": {"domain": [-0.035, 1.035], "nice": false}, "axis": {"values": [0,0.25,0.5,0.75,1], "format": ".2f", "title": "Survival probability", "titlePadding": 9}}, "y2": {"field": "hi"}, "color": {"field": "g", "type": "nominal", "scale": {"domain": ["High-Score","Low-Score"], "range": ["#2E6DB4","#B5669D"]}, "legend": {"title": "Risk Score", "orient": "none", "legendX": 40, "legendY": -16, "direction": "horizontal", "titleOrient": "left"}}}},
    {"mark": {"type": "line", "interpolate": "step-after", "strokeWidth": 1.8}, "encoding": {"x": {"field": "t", "type": "quantitative", "title": "Time"}, "y": {"field": "s", "type": "quantitative", "title": "Survival probability"}, "color": {"field": "g", "type": "nominal"}}},
    {"data": {"values": [{}]}, "mark": {"type": "text", "text": "G1_2", "fontSize": 11.5, "align": "right", "baseline": "middle"}, "encoding": {"x": {"datum": 3063}, "y": {"datum": 0.95}}},
    {"data": {"values": [{}]}, "mark": {"type": "text", "text": "p = 0.00012", "fontSize": 11.5, "align": "left", "baseline": "middle"}, "encoding": {"x": {"datum": 1870}, "y": {"datum": 0.26}}}
   ]},
  {"width": 162, "height": 30, "title": {"text": "Number at risk", "fontSize": 7.5, "fontWeight": "normal", "offset": 3, "dx": 0},
   "data": {"name": "e_risk"}, "mark": {"type": "text", "fontSize": 6, "color": "#222"},
   "encoding": {"x": {"field": "t", "type": "quantitative", "scale": {"domain": [-150, 3150], "nice": false, "zero": false}, "axis": {"values": [0,1000,2000,3000], "title": "Time", "format": "d"}}, "y": {"field": "g", "type": "nominal", "scale": {"domain": ["High-Score","Low-Score"]}, "axis": {"title": "Risk Score", "labelFontSize": 4.5, "labelPadding": 0.5, "titlePadding": 0, "labelColor": {"condition": {"test": "datum.value === 'High-Score'", "value": "#5F8FCB"}, "value": "#CF9CC6"}}}, "text": {"field": "n"}}}
 ], "spacing": 29.5, "bounds": "flush", "resolve": {"scale": {"color": "independent"}, "legend": {"color": "independent"}}},
 {"vconcat": [
  {"width": 162, "height": 105, "title": {"text": "f"},
   "data": {"name": "f_km"},
   "layer": [
    {"mark": {"type": "area", "interpolate": "step-after", "opacity": 0.3}, "encoding": {"x": {"field": "t", "type": "quantitative", "scale": {"domain": [-125, 2625], "nice": false, "zero": false}, "axis": {"values": [0,500,1000,1500,2000,2500], "title": "Time", "format": "d"}}, "y": {"field": "lo", "type": "quantitative", "scale": {"domain": [-0.035, 1.035], "nice": false}, "axis": {"values": [0,0.25,0.5,0.75,1], "format": ".2f", "title": "Survival probability", "titlePadding": 9}}, "y2": {"field": "hi"}, "color": {"field": "g", "type": "nominal", "scale": {"domain": ["High-Score","Low-Score"], "range": ["#2E6DB4","#B5669D"]}, "legend": {"title": "Risk Score", "orient": "none", "legendX": 40, "legendY": -16, "direction": "horizontal", "titleOrient": "left"}}}},
    {"mark": {"type": "line", "interpolate": "step-after", "strokeWidth": 1.8}, "encoding": {"x": {"field": "t", "type": "quantitative", "title": "Time"}, "y": {"field": "s", "type": "quantitative", "title": "Survival probability"}, "color": {"field": "g", "type": "nominal"}}},
    {"data": {"values": [{}]}, "mark": {"type": "text", "text": "G3_4", "fontSize": 11.5, "align": "right", "baseline": "middle"}, "encoding": {"x": {"datum": 2552}, "y": {"datum": 0.95}}},
    {"data": {"values": [{}]}, "mark": {"type": "text", "text": "p = 0.27", "fontSize": 11.5, "align": "left", "baseline": "middle"}, "encoding": {"x": {"datum": 1868}, "y": {"datum": 0.27}}}
   ]},
  {"width": 162, "height": 30, "title": {"text": "Number at risk", "fontSize": 7.5, "fontWeight": "normal", "offset": 3, "dx": 0},
   "data": {"name": "f_risk"}, "mark": {"type": "text", "fontSize": 6, "color": "#222"},
   "encoding": {"x": {"field": "t", "type": "quantitative", "scale": {"domain": [-125, 2625], "nice": false, "zero": false}, "axis": {"values": [0,500,1000,1500,2000,2500], "title": "Time", "format": "d"}}, "y": {"field": "g", "type": "nominal", "scale": {"domain": ["High-Score","Low-Score"]}, "axis": {"title": "Risk Score", "labelFontSize": 4.5, "labelPadding": 0.5, "titlePadding": 0, "labelColor": {"condition": {"test": "datum.value === 'High-Score'", "value": "#5F8FCB"}, "value": "#CF9CC6"}}}, "text": {"field": "n"}}}
 ], "spacing": 29.5, "bounds": "flush", "resolve": {"scale": {"color": "independent"}, "legend": {"color": "independent"}}},
 {"vconcat": [
  {"width": 162, "height": 105, "title": {"text": "g"},
   "data": {"name": "g_km"},
   "layer": [
    {"mark": {"type": "area", "interpolate": "step-after", "opacity": 0.3}, "encoding": {"x": {"field": "t", "type": "quantitative", "scale": {"domain": [-100, 2100], "nice": false, "zero": false}, "axis": {"values": [0,500,1000,1500,2000], "title": "Time", "format": "d"}}, "y": {"field": "lo", "type": "quantitative", "scale": {"domain": [-0.035, 1.035], "nice": false}, "axis": {"values": [0,0.25,0.5,0.75,1], "format": ".2f", "title": "Survival probability", "titlePadding": 9}}, "y2": {"field": "hi"}, "color": {"field": "g", "type": "nominal", "scale": {"domain": ["High-Score","Low-Score"], "range": ["#2E6DB4","#B5669D"]}, "legend": {"title": "Risk Score", "orient": "none", "legendX": 40, "legendY": -16, "direction": "horizontal", "titleOrient": "left"}}}},
    {"mark": {"type": "line", "interpolate": "step-after", "strokeWidth": 1.8}, "encoding": {"x": {"field": "t", "type": "quantitative", "title": "Time"}, "y": {"field": "s", "type": "quantitative", "title": "Survival probability"}, "color": {"field": "g", "type": "nominal"}}},
    {"data": {"values": [{}]}, "mark": {"type": "text", "text": "Site_Head", "fontSize": 11.5, "align": "right", "baseline": "middle"}, "encoding": {"x": {"datum": 2018}, "y": {"datum": 0.97}}},
    {"data": {"values": [{}]}, "mark": {"type": "text", "text": "p = 0.011", "fontSize": 11.5, "align": "left", "baseline": "middle"}, "encoding": {"x": {"datum": 1403}, "y": {"datum": 0.26}}}
   ]},
  {"width": 162, "height": 30, "title": {"text": "Number at risk", "fontSize": 7.5, "fontWeight": "normal", "offset": 3, "dx": 0},
   "data": {"name": "g_risk"}, "mark": {"type": "text", "fontSize": 6, "color": "#222"},
   "encoding": {"x": {"field": "t", "type": "quantitative", "scale": {"domain": [-100, 2100], "nice": false, "zero": false}, "axis": {"values": [0,500,1000,1500,2000], "title": "Time", "format": "d"}}, "y": {"field": "g", "type": "nominal", "scale": {"domain": ["High-Score","Low-Score"]}, "axis": {"title": "Risk Score", "labelFontSize": 4.5, "labelPadding": 0.5, "titlePadding": 0, "labelColor": {"condition": {"test": "datum.value === 'High-Score'", "value": "#5F8FCB"}, "value": "#CF9CC6"}}}, "text": {"field": "n"}}}
 ], "spacing": 29.5, "bounds": "flush", "resolve": {"scale": {"color": "independent"}, "legend": {"color": "independent"}}},
 {"vconcat": [
  {"width": 162, "height": 105, "title": {"text": "h"},
   "data": {"name": "h_km"},
   "layer": [
    {"mark": {"type": "area", "interpolate": "step-after", "opacity": 0.3}, "encoding": {"x": {"field": "t", "type": "quantitative", "scale": {"domain": [-150, 3150], "nice": false, "zero": false}, "axis": {"values": [0,1000,2000,3000], "title": "Time", "format": "d"}}, "y": {"field": "lo", "type": "quantitative", "scale": {"domain": [-0.035, 1.035], "nice": false}, "axis": {"values": [0,0.25,0.5,0.75,1], "format": ".2f", "title": "Survival probability", "titlePadding": 9}}, "y2": {"field": "hi"}, "color": {"field": "g", "type": "nominal", "scale": {"domain": ["High-Score","Low-Score"], "range": ["#2E6DB4","#B5669D"]}, "legend": {"title": "Risk Score", "orient": "none", "legendX": 40, "legendY": -16, "direction": "horizontal", "titleOrient": "left"}}}},
    {"mark": {"type": "line", "interpolate": "step-after", "strokeWidth": 1.8}, "encoding": {"x": {"field": "t", "type": "quantitative", "title": "Time"}, "y": {"field": "s", "type": "quantitative", "title": "Survival probability"}, "color": {"field": "g", "type": "nominal"}}},
    {"data": {"values": [{}]}, "mark": {"type": "text", "text": "Site_Others", "fontSize": 11.5, "align": "right", "baseline": "middle"}, "encoding": {"x": {"datum": 3060}, "y": {"datum": 1.0}}},
    {"data": {"values": [{}]}, "mark": {"type": "text", "text": "p < 0.0001", "fontSize": 11.5, "align": "left", "baseline": "middle"}, "encoding": {"x": {"datum": 1928}, "y": {"datum": 0.26}}}
   ]},
  {"width": 162, "height": 30, "title": {"text": "Number at risk", "fontSize": 7.5, "fontWeight": "normal", "offset": 3, "dx": 0},
   "data": {"name": "h_risk"}, "mark": {"type": "text", "fontSize": 6, "color": "#222"},
   "encoding": {"x": {"field": "t", "type": "quantitative", "scale": {"domain": [-150, 3150], "nice": false, "zero": false}, "axis": {"values": [0,1000,2000,3000], "title": "Time", "format": "d"}}, "y": {"field": "g", "type": "nominal", "scale": {"domain": ["High-Score","Low-Score"]}, "axis": {"title": "Risk Score", "labelFontSize": 4.5, "labelPadding": 0.5, "titlePadding": 0, "labelColor": {"condition": {"test": "datum.value === 'High-Score'", "value": "#5F8FCB"}, "value": "#CF9CC6"}}}, "text": {"field": "n"}}}
 ], "spacing": 29.5, "bounds": "flush", "resolve": {"scale": {"color": "independent"}, "legend": {"color": "independent"}}}
], "spacing": 4.5, "resolve": {"scale": {"color": "independent"}, "legend": {"color": "independent"}}}
]
}
